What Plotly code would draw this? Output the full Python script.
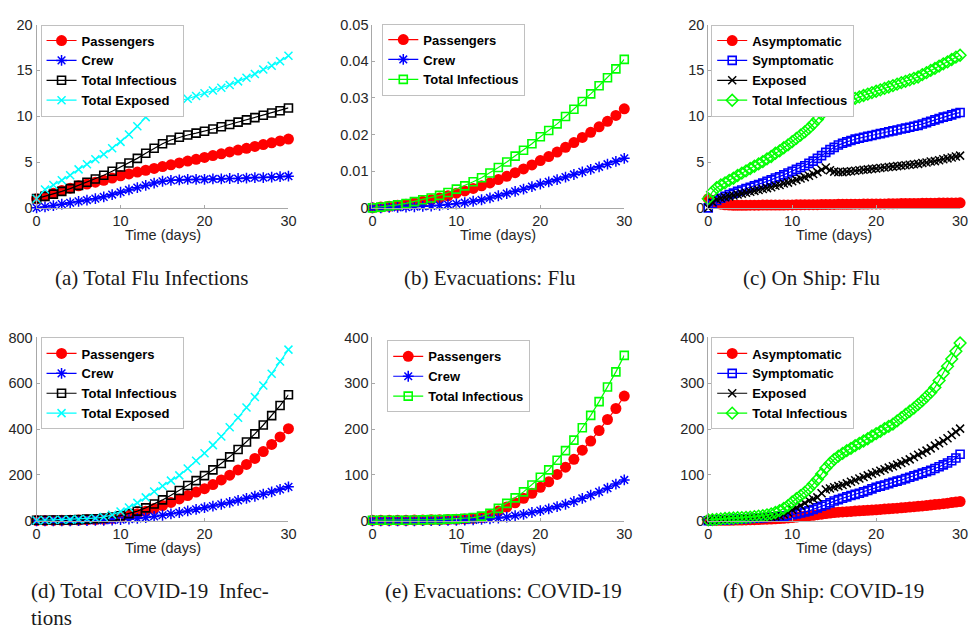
import plotly.graph_objects as go

W, H = 976, 635

days = list(range(31))
half_days = [i / 2 for i in range(61)]

# ---------- (a) Total Flu Infections ----------
a_passengers = [1.0, 1.3, 1.6, 1.9, 2.15, 2.4, 2.6, 2.8, 3.0, 3.25, 3.5, 3.7, 3.9, 4.1, 4.3, 4.5,
                4.7, 4.9, 5.1, 5.3, 5.5, 5.7, 5.9, 6.1, 6.3, 6.5, 6.7, 6.9, 7.1, 7.3, 7.5]
a_crew = [0, 0.1, 0.25, 0.4, 0.55, 0.7, 0.85, 1.0, 1.2, 1.45, 1.7, 1.95, 2.2, 2.45, 2.7, 2.9,
          3.0, 3.05, 3.1, 3.1, 3.1, 3.15, 3.15, 3.2, 3.2, 3.25, 3.3, 3.3, 3.35, 3.4, 3.45]
a_total_inf = [1.0, 1.25, 1.5, 1.8, 2.1, 2.45, 2.8, 3.15, 3.55, 4.0, 4.45, 4.9, 5.4, 5.95, 6.5, 7.0,
               7.4, 7.7, 7.95, 8.15, 8.35, 8.6, 8.85, 9.1, 9.35, 9.6, 9.85, 10.1, 10.35, 10.6, 10.9]
a_total_exp = [1.0, 2.0, 2.5, 3.0, 3.55, 4.2, 4.75, 5.3, 5.85, 6.5, 7.2, 8.0, 8.9, 9.9, 10.9, 11.2,
               11.4, 11.7, 11.9, 12.2, 12.5, 12.8, 13.1, 13.4, 13.8, 14.2, 14.6, 15.1, 15.5, 16.0, 16.6]

# ---------- (b) Evacuations: Flu ----------
b_passengers = [0, 0.0002, 0.0004, 0.0007, 0.001, 0.0014, 0.0018, 0.0022, 0.0027, 0.0033, 0.0040,
                0.0046, 0.0053, 0.0060, 0.0068, 0.0077, 0.0086, 0.0096, 0.0106, 0.0117, 0.0129,
                0.0140, 0.0152, 0.0165, 0.0178, 0.0192, 0.0206, 0.0221, 0.0236, 0.0252, 0.0270]
b_crew = [0, 0.0, 0.0001, 0.0001, 0.0002, 0.0003, 0.0004, 0.0005, 0.0007, 0.0009, 0.0011,
          0.0014, 0.0018, 0.0022, 0.0027, 0.0033, 0.0039, 0.0045, 0.0051, 0.0058, 0.0065,
          0.0071, 0.0077, 0.0084, 0.0091, 0.0098, 0.0105, 0.0112, 0.0119, 0.0127, 0.0135]
b_total_inf = [0, 0.0002, 0.0005, 0.0008, 0.0012, 0.0017, 0.0022, 0.0027, 0.0034, 0.0042, 0.0051,
               0.0060, 0.0071, 0.0082, 0.0095, 0.0110, 0.0125, 0.0141, 0.0157, 0.0175, 0.0194,
               0.0211, 0.0229, 0.0249, 0.0269, 0.0290, 0.0311, 0.0333, 0.0355, 0.0379, 0.0405]

# ---------- (c) On Ship: Flu (half-day steps) ----------
c_asym = [1.0, 0.7, 0.5, 0.4, 0.33, 0.3, 0.28, 0.28, 0.28, 0.28,
          0.29, 0.29, 0.29, 0.3, 0.3, 0.3, 0.31, 0.31, 0.31, 0.32,
          0.32, 0.33, 0.33, 0.34, 0.34, 0.35, 0.35, 0.36, 0.36, 0.37,
          0.37, 0.38, 0.38, 0.39, 0.39, 0.40, 0.40, 0.41, 0.41, 0.42,
          0.42, 0.43, 0.43, 0.44, 0.44, 0.45, 0.46, 0.46, 0.47, 0.48,
          0.48, 0.49, 0.50, 0.50, 0.51, 0.52, 0.52, 0.53, 0.54, 0.54, 0.55]
c_sym = [0, 0.45, 0.8, 1.05, 1.25, 1.45, 1.6, 1.8, 1.95, 2.1,
         2.25, 2.4, 2.55, 2.7, 2.9, 3.05, 3.25, 3.4, 3.6, 3.8,
         4.0, 4.2, 4.4, 4.6, 4.85, 5.1, 5.4, 5.7, 6.05, 6.35,
         6.6, 6.85, 7.05, 7.2, 7.35, 7.5, 7.6, 7.7, 7.8, 7.9,
         8.0, 8.1, 8.2, 8.3, 8.4, 8.5, 8.6, 8.7, 8.8, 8.9,
         9.0, 9.15, 9.3, 9.45, 9.6, 9.75, 9.9, 10.0, 10.15, 10.3, 10.4]
c_exposed = [0, 0.6, 0.9, 1.05, 1.15, 1.25, 1.35, 1.45, 1.55, 1.65,
             1.75, 1.85, 1.95, 2.05, 2.15, 2.25, 2.4, 2.5, 2.65, 2.75,
             2.9, 3.05, 3.2, 3.35, 3.5, 3.7, 3.9, 4.15, 4.4, 4.1,
             3.95, 3.9, 3.9, 3.95, 4.0, 4.05, 4.1, 4.15, 4.2, 4.25,
             4.3, 4.35, 4.4, 4.45, 4.5, 4.55, 4.6, 4.65, 4.7, 4.75,
             4.8, 4.9, 4.95, 5.05, 5.1, 5.2, 5.3, 5.4, 5.5, 5.6, 5.7]
c_total_inf = [1.0, 1.75, 2.2, 2.5, 2.73, 3.0, 3.23, 3.53, 3.78, 4.03,
               4.29, 4.54, 4.79, 5.05, 5.35, 5.6, 5.96, 6.21, 6.56, 6.87,
               7.22, 7.58, 7.93, 8.29, 8.69, 9.15, 9.65, 10.21, 10.81, 10.82,
               10.92, 11.13, 11.33, 11.54, 11.74, 11.95, 12.1, 12.26, 12.41, 12.57,
               12.72, 12.88, 13.03, 13.19, 13.34, 13.5, 13.66, 13.81, 13.97, 14.13,
               14.28, 14.54, 14.75, 15.0, 15.21, 15.47, 15.72, 15.93, 16.19, 16.44, 16.65]

# ---------- (d) Total COVID-19 Infections ----------
d_passengers = [1, 1, 1.5, 2, 2.5, 3, 4, 5, 7, 10, 16, 23, 31, 41, 53, 66,
                80, 95, 110, 125, 140, 158, 178, 199, 222, 246, 272, 302, 333, 366, 402]
d_crew = [0, 0, 0, 0, 0, 0.5, 1, 1.5, 2, 3, 5, 7, 10, 14, 19, 24,
          30, 36, 43, 50, 57, 64, 72, 80, 89, 98, 107, 116, 126, 137, 148]
d_total_inf = [2, 2, 3, 3, 4, 5, 7, 9, 12, 16, 22, 31, 42, 56, 73, 91,
               111, 132, 154, 175, 197, 222, 250, 279, 311, 344, 379, 418, 459, 503, 550]
d_total_exp = [1, 2, 3, 4, 5, 6, 8, 11, 16, 26, 40, 58, 78, 102, 128, 152,
               175, 198, 228, 262, 295, 330, 368, 408, 450, 494, 540, 590, 642, 695, 747]

# ---------- (e) Evacuations: COVID-19 ----------
e_passengers = [1, 1, 1, 1, 1, 1.5, 1.5, 2, 2, 2.5, 3, 4, 5, 7, 12, 21,
                30, 39, 49, 60, 73, 85, 101, 117, 134, 154, 174, 197, 221, 245, 272]
e_crew = [0, 0, 0, 0, 0, 0, 0.5, 0.5, 0.5, 1, 1, 1.5, 2, 3, 4, 6,
          8, 11, 14, 18, 22, 26, 31, 36, 42, 49, 56, 63, 71, 80, 89]
e_total_inf = [1, 1, 1, 1, 1, 1.5, 2, 2.5, 2.5, 3.5, 4, 5.5, 7, 10, 16, 27,
               38, 50, 63, 78, 95, 111, 132, 153, 176, 203, 230, 260, 292, 325, 361]

# ---------- (f) On Ship: COVID-19 (half-day steps) ----------
f_asym = [1, 1, 1, 1, 1, 1, 1.2, 1.4, 1.6, 1.8,
          2, 2.3, 2.6, 3, 3.4, 3.8, 4.3, 4.8, 5.4, 6.1,
          7, 8, 9, 10, 11, 12, 13.2, 14.4, 15.6, 16.8,
          18, 18.6, 19.2, 19.8, 20.4, 21, 21.6, 22.2, 22.8, 23.4,
          24, 24.7, 25.4, 26.1, 26.8, 27.5, 28.2, 29, 29.8, 30.6,
          31.5, 32.4, 33.3, 34.2, 35.2, 36.2, 37.3, 38.4, 39.6, 40.8, 42]
f_sym = [0, 0.5, 1, 1.5, 2, 2.5, 3, 3.5, 4, 4.5,
         5, 5.5, 6, 6.5, 7, 7.5, 8.2, 9, 10, 11.5,
         13, 15, 17, 19, 21.5, 24.5, 28, 31.5, 35, 39,
         43, 46, 49, 52, 55, 57.5, 60, 63, 66, 69.5,
         73, 75.5, 78, 81, 84, 86.5, 89, 92, 95, 98,
         101, 104, 107, 110, 114, 118, 122, 126, 131, 137, 145]
f_exposed = [1, 1.5, 2, 2.5, 3, 3.5, 4, 4.5, 5, 5.5,
             6, 6.5, 7, 7.5, 8, 8.5, 9.5, 11, 14, 18,
             24, 28.5, 33, 38.5, 44, 47.5, 51, 60, 68, 70.5,
             73, 75.5, 78, 81.5, 85, 88.5, 92, 95.5, 99, 102.5,
             106, 109, 112.5, 116, 119, 122.5, 126, 130, 134, 139,
             144, 148.5, 153, 158, 164, 169, 174, 180, 187, 194, 201]
f_total_inf = [2, 2.5, 3, 4, 5, 5.5, 6, 6.5, 7, 7.5,
               8, 9, 10, 11, 13, 15, 18, 22, 27, 33,
               41, 48, 55, 62, 70, 80, 90, 102, 115, 125,
               134, 141, 147, 153, 158, 164, 169, 174, 179, 185,
               190, 195, 201, 206, 211, 218, 225, 232, 239, 246,
               254, 262, 271, 280, 291, 306, 322, 337, 353, 370, 388]

y_ranges = [[0, 20], [0, 0.05], [0, 20], [0, 800], [0, 400], [0, 400]]
y_ticks = [[0, 5, 10, 15, 20], [0, 0.01, 0.02, 0.03, 0.04, 0.05], [0, 5, 10, 15, 20],
           [0, 200, 400, 600, 800], [0, 100, 200, 300, 400], [0, 100, 200, 300, 400]]
y_ticktext = [None, ["0", "0.01", "0.02", "0.03", "0.04", "0.05"], None, None, None, None]
x_ticks = [0, 10, 20, 30]
captions = ["(a) Total Flu Infections", "(b) Evacuations: Flu", "(c) On Ship: Flu",
            "(d) Total  COVID-19  Infec-<br>tions", "(e) Evacuations: COVID-19", "(f) On Ship: COVID-19"]

RED, BLUE, BLACK, CYAN, GREEN = "#ff0000", "#0000ff", "#000000", "#00ffff", "#00ff00"

# style presets
def st_pass(color=RED):
    return dict(line=dict(color=color, width=1.2),
                marker=dict(symbol="circle", size=11, color=color))

def st_star():
    return dict(line=dict(color=BLUE, width=1.2),
                marker=dict(symbol="asterisk-open", size=9, color=BLUE, line=dict(color=BLUE, width=1.5)))

def st_sq(color):
    return dict(line=dict(color=color, width=1.2),
                marker=dict(symbol="square-open", size=8, color=color, line=dict(color=color, width=1.6)))

def st_x(color):
    return dict(line=dict(color=color, width=1.2),
                marker=dict(symbol="x-thin-open", size=8, color=color, line=dict(color=color, width=1.5)))

def st_dia():
    return dict(line=dict(color=GREEN, width=1.2),
                marker=dict(symbol="diamond-open", size=9, color=GREEN, line=dict(color=GREEN, width=1.5)))

panels = [
    (days, [("Passengers", a_passengers, st_pass()), ("Crew", a_crew, st_star()),
            ("Total Infectious", a_total_inf, st_sq(BLACK)), ("Total Exposed", a_total_exp, st_x(CYAN))]),
    (days, [("Passengers", b_passengers, st_pass()), ("Crew", b_crew, st_star()),
            ("Total Infectious", b_total_inf, st_sq(GREEN))]),
    (half_days, [("Asymptomatic", c_asym, st_pass()), ("Symptomatic", c_sym, st_sq(BLUE)),
                 ("Exposed", c_exposed, st_x(BLACK)), ("Total Infectious", c_total_inf, st_dia())]),
    (days, [("Passengers", d_passengers, st_pass()), ("Crew", d_crew, st_star()),
            ("Total Infectious", d_total_inf, st_sq(BLACK)), ("Total Exposed", d_total_exp, st_x(CYAN))]),
    (days, [("Passengers", e_passengers, st_pass()), ("Crew", e_crew, st_star()),
            ("Total Infectious", e_total_inf, st_sq(GREEN))]),
    (half_days, [("Asymptomatic", f_asym, st_pass()), ("Symptomatic", f_sym, st_sq(BLUE)),
                 ("Exposed", f_exposed, st_x(BLACK)), ("Total Infectious", f_total_inf, st_dia())]),
]

# pixel geometry (left, right, top, bottom) of each axes box
boxes = [(33, 288, 17, 205), (373, 628, 17, 205), (713, 968, 17, 205),
         (33, 288, 338, 526), (373, 628, 338, 526), (713, 968, 338, 526)]
legend_pos = [(37, 17), (383, 16), (716, 17), (37, 338), (388, 341), (716, 338)]
caption_pos = [(150, 'center', 277), (492, 'center', 277), (818, 'center', 277),
               (25, 'left', 612), (506, 'center', 598), (830, 'center', 598)]

def px(x):
    return x / W

def py(y):
    return 1 - y / H

fig = go.Figure()
layout = dict(width=W, height=H, margin=dict(l=0, r=0, t=0, b=0),
              paper_bgcolor="white", plot_bgcolor="white", showlegend=True)
annotations = []
AX_FONT = dict(family="Liberation Sans, Arial, sans-serif", size=14.5, color="#262626")

for i, (xs, series) in enumerate(panels):
    k = i + 1
    xa = "x" if k == 1 else f"x{k}"
    ya = "y" if k == 1 else f"y{k}"
    lg = "legend" if k == 1 else f"legend{k}"
    for name, vals, style in series:
        fig.add_trace(go.Scatter(x=xs, y=vals, name=name, mode="lines+markers",
                                 xaxis=xa, yaxis=ya, legend=lg, cliponaxis=False, **style))
    l, r, t, b = boxes[i]
    axis_common = dict(showgrid=False, zeroline=False, showline=True, linecolor="#a8a8a8",
                       linewidth=1, ticks="inside", ticklen=3, tickcolor="#a8a8a8",
                       tickfont=AX_FONT, mirror=False)
    layout["xaxis" if k == 1 else f"xaxis{k}"] = dict(
        domain=[px(l), px(r)], range=[0, 30], tickvals=x_ticks, anchor=ya, **axis_common)
    yax = dict(domain=[py(b), py(t)], range=y_ranges[i], tickvals=y_ticks[i], anchor=xa, **axis_common)
    if y_ticktext[i] is not None:
        yax["ticktext"] = y_ticktext[i]
    layout["yaxis" if k == 1 else f"yaxis{k}"] = yax
    lx, ly = legend_pos[i]
    layout[lg] = dict(x=px(lx), y=py(ly), xanchor="left", yanchor="top",
                      bgcolor="white", bordercolor="#c0c0c0", borderwidth=1,
                      font=dict(family="Liberation Sans, Arial, sans-serif", size=13,
                                color="black", weight="bold"),
                      itemwidth=30, tracegroupgap=0)
    # axis title
    annotations.append(dict(text="Time (days)", x=px((l + r) / 2), y=py(b + 28),
                            xref="paper", yref="paper", showarrow=False,
                            xanchor="center", yanchor="middle", font=AX_FONT))
    cx, anc, cy = caption_pos[i]
    annotations.append(dict(text=captions[i], x=px(cx), y=py(cy), xref="paper", yref="paper",
                            showarrow=False, xanchor=anc, yanchor="middle", align="left",
                            font=dict(family="Liberation Serif, Times New Roman, serif",
                                      size=21, color="#1a1a1a")))

layout["annotations"] = annotations
fig.update_layout(**layout)
fig.write_html("out.html")
